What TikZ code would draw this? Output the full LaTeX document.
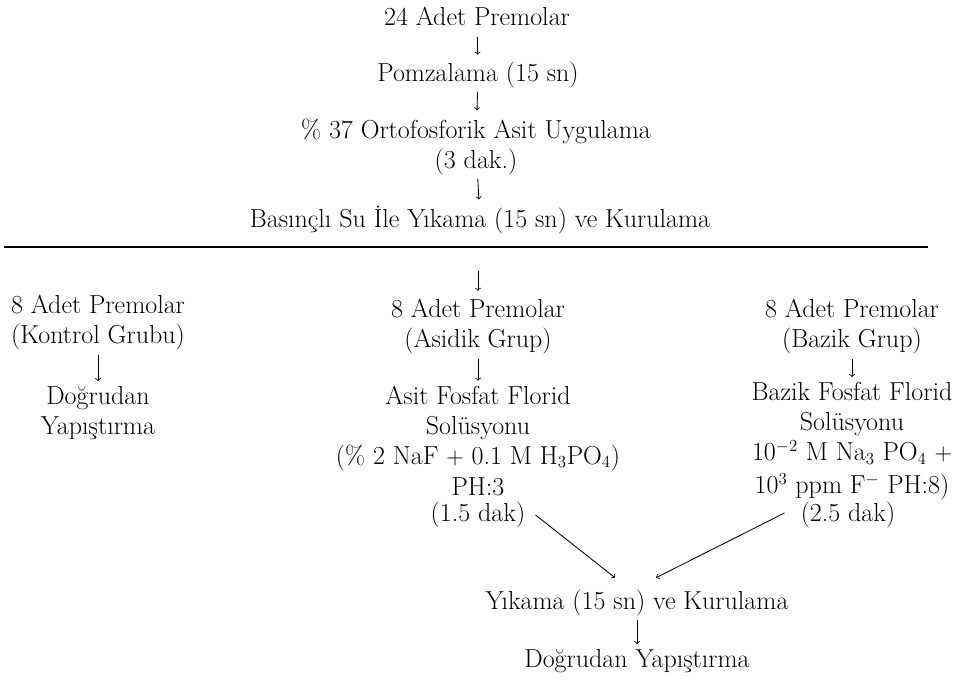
\documentclass[tikz,border=0pt]{standalone}
\usepackage{fontspec}
\usepackage{amsmath}
\usepackage{tikz}
\usetikzlibrary{arrows}

\begin{document}
\begin{tikzpicture}[x=0.025cm,y=-0.025cm,
  txt/.style={font=\fontsize{18.5}{21.3}\selectfont, align=center, inner sep=0pt},
  flow/.style={-to, line width=0.6pt, shorten <=3pt, shorten >=3.5pt}]
  \useasboundingbox (0,0) rectangle (960,682);
  \node[txt] (top1) at (477,16) {24 Adet Premolar};
  \node[txt] (top2) at (478,75) {Pomzalama (15 sn)};
  \node[txt] (top3) at (476,147) {\% 37 Ortofosforik Asit Uygulama\\(3 dak.)};
  \node[txt] (top4) at (480,220) {Basınçlı Su İle Yıkama (15 sn) ve Kurulama};
  \draw[line width=0.9pt] (4,247) -- (928,247);
  \coordinate (split) at (478,271);
  \node[txt] (kontrol) at (98,323) {8 Adet Premolar\\(Kontrol Grubu)};
  \node[txt] (kdirect) at (98,413) {Doğrudan\\Yapıştırma};
  \node[txt] (asidik) at (478,327) {8 Adet Premolar\\(Asidik Grup)};
  \node[txt] (asitsol) at (478,441) {Asit Fosfat Florid\\Solüsyonu\\(\% 2 NaF $+$ 0.1 M H$_3$PO$_4$)\\[1pt]PH:3};
  \node[txt] (asittime) at (478,515) {(1.5 dak)};
  \node[txt] (bazik) at (852,327) {8 Adet Premolar\\(Bazik Grup)};
  \node[txt] (baziksol) at (852,441) {Bazik Fosfat Florid\\Solüsyonu\\10$^{-2}$ M Na$_3$ PO$_4$ $+$\\[2pt]10$^3$ ppm F$^-$ PH:8)};
  \node[txt] (baztime) at (848,515) {(2.5 dak)};
  \node[txt] (yikama) at (637,603) {Yıkama (15 sn) ve Kurulama};
  \node[txt] (yapistir) at (637,661) {Doğrudan Yapıştırma};
  \draw[flow, shorten <=8pt, shorten >=5pt] (top1) -- (top2);
  \draw[flow, shorten <=2.5pt, shorten >=6pt] (top2) -- (top3);
  \draw[flow, shorten <=2.5pt, shorten >=4.5pt] (top3) -- (top4);
  \draw[flow, shorten <=0pt, shorten >=6pt] (split) -- (asidik);
  \draw[flow] (kontrol) -- (kdirect);
  \draw[flow] (asidik) -- (asitsol);
  \draw[flow] (bazik) -- (baziksol);
  \draw[flow, shorten <=0pt, shorten >=0pt] ([xshift=0.25cm]asittime.east) -- ([xshift=-0.55cm,yshift=0.3cm]yikama.north);
  \draw[flow, shorten <=0pt, shorten >=0pt] ([xshift=-0.4cm,yshift=0.05cm]baztime.west) -- ([xshift=0.475cm,yshift=0.3cm]yikama.north);
  \draw[flow] (yikama) -- (yapistir);
\end{tikzpicture}
\end{document}
